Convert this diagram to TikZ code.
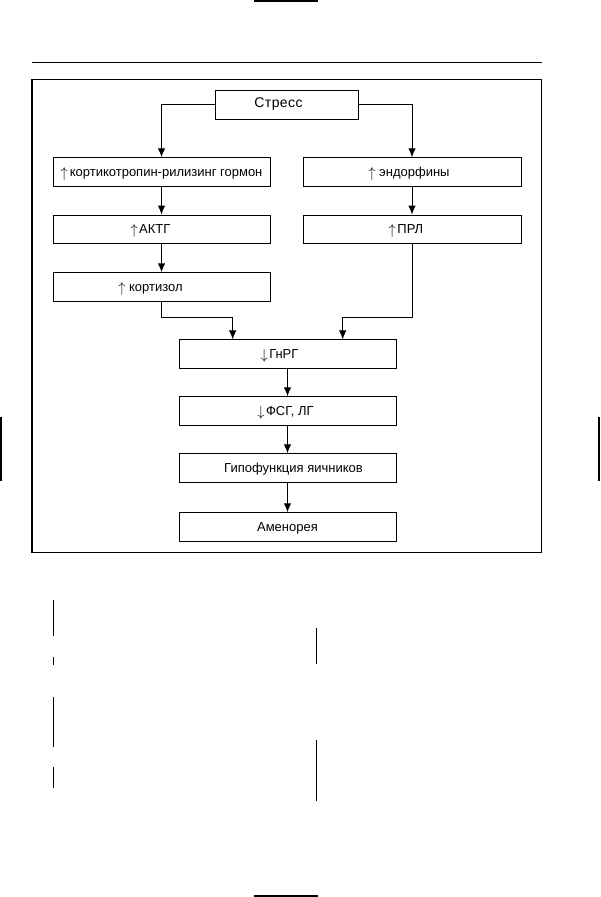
\documentclass[tikz,border=0pt]{standalone}
\usepackage{fontspec}
\setmainfont{Liberation Sans}
\usetikzlibrary{arrows.meta}
\newcommand{\upa}{\smash{\raisebox{-1pt}{\fontsize{15}{15}\selectfont$\uparrow$}}}
\newcommand{\dna}{\smash{\raisebox{-1pt}{\fontsize{15}{15}\selectfont$\downarrow$}}}
\tikzset{
  box/.style={draw, line width=1pt, minimum height=28.5pt, inner sep=0pt,
    text height=11.5pt, text depth=3pt, font=\fontsize{13}{15}\selectfont},
  wbox/.style={box, minimum width=217pt},
  conn/.style={line width=1pt, -{Latex[length=9pt,width=7.5pt]}},
}
\begin{document}
\begin{tikzpicture}[x=1pt,y=-1pt]
\useasboundingbox (0,0) rectangle (600,897);
% page marks
\draw[line width=2pt] (254,0.5) -- (318,0.5);
\draw[line width=2pt] (254,896) -- (318,896);
\draw[line width=1.5pt] (0.8,417) -- (0.8,481);
\draw[line width=1.5pt] (599.2,417) -- (599.2,481);
\draw[line width=1.2pt] (32,62.3) -- (541.7,62.3);
\draw[line width=1.3pt] (32,79.7) rectangle (541.2,552.3);
% bottom margin marks
\draw[line width=0.8pt] (53.3,600) -- (53.3,636);
\draw[line width=0.8pt] (53.3,657) -- (53.3,665);
\draw[line width=0.8pt] (53.3,697) -- (53.3,747);
\draw[line width=0.8pt] (53.3,767) -- (53.3,788);
\draw[line width=0.8pt] (316,628) -- (316,664);
\draw[line width=0.8pt] (316,740) -- (316,801);
% nodes
\node[box, minimum width=143pt, minimum height=29pt, text height=9.5pt] (stress) at (286.5,104.5)
  {\hspace{-16pt}\fontsize{14}{16}\selectfont\addfontfeature{LetterSpace=3}Стресс};
\node[wbox] (crh) at (161.5,172) {\upa\kern2pt кортикотропин-рилизинг гормон};
\node[wbox] (actg) at (161.5,229.3) {\hspace{-22pt}\upa\kern1.5pt АКТГ};
\node[wbox] (cort) at (161.5,287) {\hspace{-22pt}\upa\ кортизол};
\node[wbox, minimum width=218pt] (endo) at (412,172) {\hspace{-6pt}\upa\ эндорфины};
\node[wbox, minimum width=218pt] (prl) at (412,229.3) {\hspace{-12pt}\upa\kern1.5pt ПРЛ};
\node[wbox] (gnrg) at (287.5,354.2) {\hspace{-16pt}\dna\kern1.5pt ГнРГ};
\node[wbox] (fsg) at (287.5,411) {\hspace{-4pt}\dna\kern1.5pt ФСГ, ЛГ};
\node[wbox] (hypo) at (287.5,468) {\hspace{12pt}Гипофункция яичников};
\node[wbox] (amen) at (287.5,527) {Аменорея};
% connectors
\draw[conn] (stress.west) -| (crh.north);
\draw[conn] (stress.east) -| (endo.north);
\draw[conn] (crh) -- (actg);
\draw[conn] (actg) -- (cort);
\draw[conn] (endo) -- (prl);
\coordinate (lj) at (232.7,317.5);
\coordinate (rj) at (342.7,317.5);
\draw[conn] (cort.south) |- (lj) -- (lj |- gnrg.north);
\draw[conn] (prl.south) |- (rj) -- (rj |- gnrg.north);
\draw[conn] (gnrg) -- (fsg);
\draw[conn] (fsg) -- (hypo);
\draw[conn] (hypo) -- (amen);
\end{tikzpicture}
\end{document}
